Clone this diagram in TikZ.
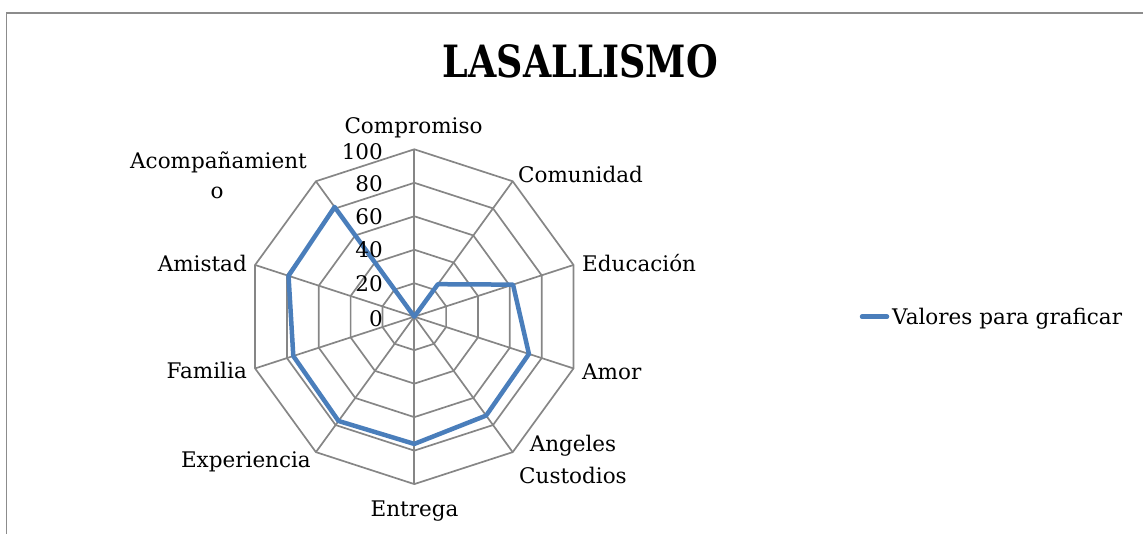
\documentclass[tikz,border=0pt]{standalone}
\usepackage{fontspec}
\setmainfont{DejaVu Serif}
\usetikzlibrary{calc}
\definecolor{gridgray}{HTML}{868686}
\definecolor{serblue}{HTML}{4A7EBB}
\definecolor{framegray}{HTML}{8C8C8C}
\begin{document}
\begin{tikzpicture}[x=1pt,y=1pt,
  gridline/.style={draw=gridgray,line width=1.7pt},
  series/.style={draw=serblue,line width=4.5pt,line join=round,line cap=round},
  lbl/.style={font=\fontsize{21.5}{25}\selectfont,inner sep=0pt,text=black},
  ticklbl/.style={font=\fontsize{21.5}{25}\selectfont,inner sep=0pt,anchor=base east}]
\useasboundingbox (0,0) rectangle (1143,533);
\clip (0,0) rectangle (1143,533);
% frame (clipped at right and bottom)
\draw[framegray,line width=1.8pt] (6.5,-10) -- (6.5,520) -- (1160,520);
% title
\node[inner sep=0pt,anchor=base] (title) at (580.5,455) {\resizebox{275pt}{33pt}{\bfseries LASALLISMO}};
% centre
\coordinate (c) at (414.3,216.3);
% rings
\foreach \k in {1,...,5}{
  \pgfmathsetmacro{\rr}{\k*33.48}
  \draw[gridline] ($(c)+(90:\rr)$)
    \foreach \a in {54,18,-18,-54,-90,-126,-162,162,126}{ -- ($(c)+(\a:\rr)$) } -- cycle;
}
% spokes
\foreach \a in {90,54,18,-18,-54,-90,-126,-162,162,126}{
  \draw[gridline] (c) -- ($(c)+(\a:167.4)$);
}
% data points
\coordinate (p0) at (c);
\coordinate (p1) at ($(c)+(54:{24*1.674})$);
\coordinate (p2) at ($(c)+(18:{62*1.674})$);
\coordinate (p3) at ($(c)+(-18:{72*1.674})$);
\coordinate (p4) at ($(c)+(-54:{73*1.674})$);
\coordinate (p5) at ($(c)+(-90:{76*1.674})$);
\coordinate (p6) at ($(c)+(-126:{77*1.674})$);
\coordinate (p7) at ($(c)+(-162:{76*1.674})$);
\coordinate (p8) at ($(c)+(162:{79*1.674})$);
\coordinate (p9) at ($(c)+(126:{81*1.674})$);
\draw[series] (p0) -- (p1) -- (p2) -- (p3) -- (p4) -- (p5) -- (p6) -- (p7) -- (p8) -- (p9) -- cycle;
% tick labels
\node[ticklbl] (t100) at (383,373.7) {100};
\node[ticklbl] (t80) at (383,341.3) {80};
\node[ticklbl] (t60) at (383,308) {60};
\node[ticklbl] (t40) at (383,275) {40};
\node[ticklbl] (t20) at (383,241.3) {20};
\node[ticklbl] (t0) at (383,206.3) {0};
% category labels
\node[lbl,anchor=base] (compromiso) at (413.5,399.7) {Compromiso};
\node[lbl,anchor=base west] (comunidad) at (518,350) {Comunidad};
\node[lbl,anchor=base west] (educacion) at (582,261.3) {Educación};
\node[lbl,anchor=base west] (amor) at (582,153) {Amor};
\node[lbl,anchor=base] (angeles) at (573,81.3) {Angeles};
\node[lbl,anchor=base] (custodios) at (573,50) {Custodios};
\node[lbl,anchor=base] (entrega) at (414.5,17) {Entrega};
\node[lbl,anchor=base east] (experiencia) at (311,65.3) {Experiencia};
\node[lbl,anchor=base east] (familia) at (247,154.7) {Familia};
\node[lbl,anchor=base east] (amistad) at (247,261.3) {Amistad};
\node[lbl,anchor=base] (acomp) at (218.5,364.7) {Acompañamient};
\node[lbl,anchor=base] (acompo) at (217,334) {o};
% legend
\coordinate (legA) at (862,216.3);
\coordinate (legB) at (887,216.3);
\draw[series] (legA) -- (legB);
\node[lbl,anchor=base west] (legtext) at (892,208) {Valores para graficar};
\end{tikzpicture}
\end{document}
